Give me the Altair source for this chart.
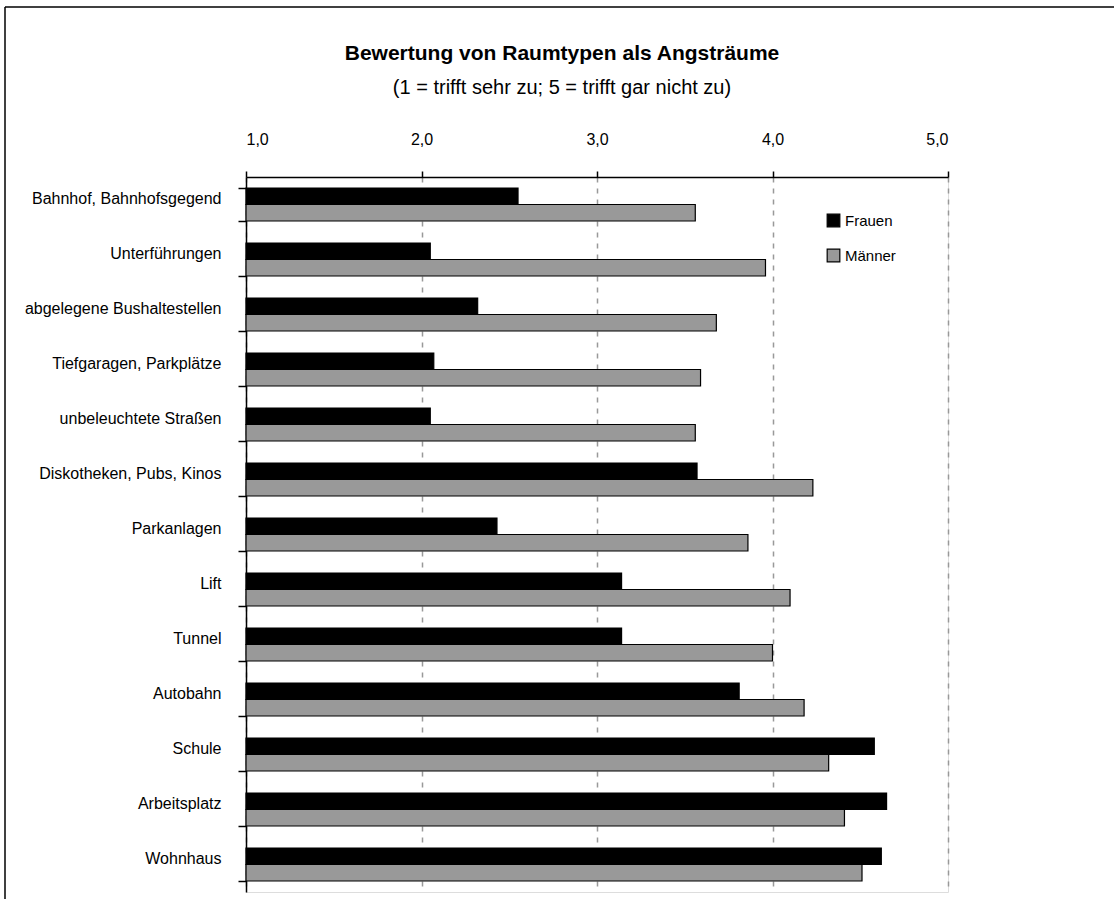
import altair as alt
import pandas as pd

categories = ["Bahnhof, Bahnhofsgegend", "Unterführungen", "abgelegene Bushaltestellen",
              "Tiefgaragen, Parkplätze", "unbeleuchtete Straßen", "Diskotheken, Pubs, Kinos",
              "Parkanlagen", "Lift", "Tunnel", "Autobahn", "Schule", "Arbeitsplatz", "Wohnhaus"]
frauen = [2.55, 2.05, 2.32, 2.07, 2.05, 3.57, 2.43, 3.14, 3.14, 3.81, 4.58, 4.65, 4.62]
maenner = [3.56, 3.96, 3.68, 3.59, 3.56, 4.23, 3.86, 4.10, 4.00, 4.18, 4.32, 4.41, 4.51]
series = ["Frauen", "Männer"]
colors = ["#000000", "#999999"]
x_ticks = [1, 2, 3, 4, 5]

rows = []
for c, f, m in zip(categories, frauen, maenner):
    rows.append({"Raumtyp": c, "Geschlecht": series[0], "Wert": f, "Basis": 1.0})
    rows.append({"Raumtyp": c, "Geschlecht": series[1], "Wert": m, "Basis": 1.0})
df = pd.DataFrame(rows)

FONT = "Liberation Sans"

bars = alt.Chart(df).mark_bar(stroke="#000000", strokeWidth=1.2).encode(
    y=alt.Y("Raumtyp:N", sort=categories,
            scale=alt.Scale(paddingInner=0.4, paddingOuter=0.2),
            axis=alt.Axis(title=None, orient="left", tickBand="extent", tickSize=8,
                          tickColor="#000000", domainColor="#000000", domainWidth=1.5,
                          tickWidth=1.5, labelPadding=17, labelFontSize=16, labelFont=FONT,
                          labelColor="#000000", labelOffset=-6, labelLimit=400)),
    yOffset=alt.YOffset("Geschlecht:N", sort=series),
    x=alt.X("Wert:Q", scale=alt.Scale(domain=[1, 5], zero=False, nice=False),
            axis=alt.Axis(title=None, orient="top", values=x_ticks,
                          labelExpr="replace(format(datum.value, '.1f'), '.', ',')",
                          tickSize=6, tickColor="#000000", tickWidth=1.5,
                          domainColor="#000000", domainWidth=1.5,
                          labelPadding=24, labelFontSize=16, labelFont=FONT, labelColor="#000000",
                          grid=True, gridDash=[5, 6], gridColor="#999999", gridWidth=1.5)),
    x2="Basis:Q",
    color=alt.Color("Geschlecht:N", sort=series,
                    scale=alt.Scale(domain=series, range=colors),
                    legend=alt.Legend(title=None, orient="none", legendX=580, legendY=36,
                                      symbolType="square", symbolSize=160,
                                      symbolStrokeColor="#000000", symbolStrokeWidth=1.2,
                                      labelFontSize=15, labelFont=FONT, labelColor="#000000",
                                      rowPadding=16, padding=0, labelOffset=4)),
)

frame_df = pd.DataFrame({"k": [0]})
frame_top = alt.Chart(frame_df).mark_rule(color="#000000", strokeWidth=1.5).encode(
    x=alt.value(-241), x2=alt.value(880), y=alt.value(-170))
frame_left = alt.Chart(frame_df).mark_rule(color="#000000", strokeWidth=1.5).encode(
    x=alt.value(-241), y=alt.value(-170), y2=alt.value(730))

chart = alt.layer(bars, frame_top, frame_left).properties(
    width=702, height=715,
    autosize="none",
    padding={"left": 246, "top": 177, "right": 166, "bottom": 7},
    title=alt.TitleParams(
        text="Bewertung von Raumtypen als Angsträume",
        subtitle="(1 = trifft sehr zu; 5 = trifft gar nicht zu)",
        font=FONT, fontSize=21, fontWeight="bold", color="#000000",
        subtitleFont=FONT, subtitleFontSize=20, subtitleColor="#000000",
        subtitlePadding=14, anchor="middle", frame="group", dx=-35, offset=-92),
).configure_view(stroke=None).configure(background="#ffffff")

chart.save("out.html", embed_options={"renderer": "svg", "actions": False})
